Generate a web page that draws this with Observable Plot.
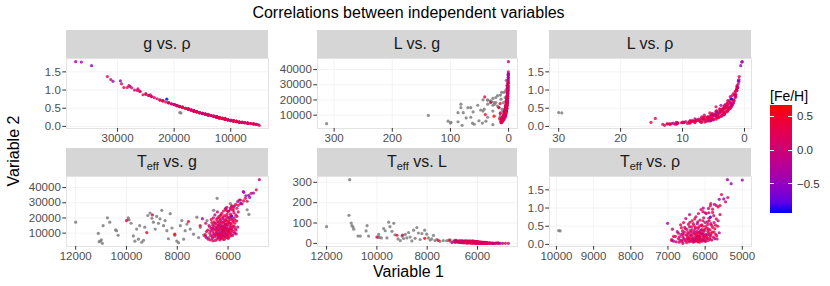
<!DOCTYPE html>
<html><head><meta charset="utf-8">
<script src="https://cdn.jsdelivr.net/npm/d3@7"></script>
<script src="https://cdn.jsdelivr.net/npm/@observablehq/plot@0.6"></script>
<style>
body{margin:0;background:#fff;}
#root{position:relative;width:830px;height:286px;font-family:"Liberation Sans",Arial,sans-serif;overflow:hidden;background:#fff;}
.abs{position:absolute;white-space:nowrap;}
.strip{position:absolute;background:#D6D6D6;color:#1A1A1A;font-size:16px;display:flex;align-items:center;justify-content:center;white-space:pre;}
.strip sub{font-size:11px;vertical-align:-3px;line-height:0;}
.pl{position:absolute;}
</style></head><body><div id="root"></div>
<script>
// ---- data: [Teff, g, L, rho, [Fe/H]] ----
const mainStars = [
[7010,19500,3.8,0.58,-0.35],[6900,9000,9.5,0.13,0.1],[6900,8000,15.1,0.11,0.4],[6850,11000,14.4,0.22,0.35],
[6850,7000,11.5,0.09,-0.4],[6880,16500,4.6,0.42,0.05],[6800,12000,7.0,0.22,0.25],[6780,6000,12.5,0.07,0.15],
[6750,15000,5.2,0.35,-0.1],[6720,10000,8.4,0.16,0.3],[6700,5500,13.2,0.06,0.2],[6600,4950,12.9,0.03,0.25],
[6680,8500,10.0,0.12,0.2],[6650,13000,5.9,0.27,0.0],[6640,17000,4.0,0.46,0.3],[6620,6500,11.8,0.08,-0.2],
[6600,11000,7.4,0.2,0.35],[6580,20000,3.1,0.6,0.1],[6570,9500,8.8,0.15,-0.5],[6560,14500,5.3,0.34,0.2],
[6540,7500,10.8,0.1,0.3],[6520,22000,2.7,0.71,-0.15],[6510,12500,6.4,0.26,0.15],[6500,5200,12.0,0.05,0.25],
[6490,16000,4.4,0.41,0.4],[6470,10500,7.6,0.18,0.1],[6460,8000,9.8,0.11,-0.1],[6450,19000,3.3,0.55,0.2],
[6440,13500,5.5,0.3,-0.3],[6430,6000,12.1,0.07,0.3],[6420,24000,2.3,0.82,0.05],[6410,11500,6.6,0.22,0.25],
[6400,15500,4.6,0.38,0.15],[6390,9000,8.6,0.14,0.35],[6380,7000,10.9,0.09,-0.05],[6370,17500,3.6,0.48,-0.2],
[6360,12000,6.0,0.24,0.45],[6350,21000,2.8,0.65,0.3],[6340,10000,7.8,0.17,-0.6],[6330,14000,4.8,0.32,0.1],
[6320,5500,11.2,0.06,0.0],[6310,8500,8.8,0.12,0.2],[6300,18500,3.3,0.52,0.35],[6295,13000,5.2,0.28,0.25],
[6285,11000,6.5,0.2,-0.25],[6280,6500,10.9,0.08,0.3],[6270,16500,3.8,0.43,0.1],[6260,9500,7.8,0.15,0.2],
[6250,23000,2.2,0.76,0.15],[6240,12500,5.4,0.26,0.4],[6230,7500,9.9,0.1,-0.1],[6220,15000,4.0,0.36,0.3],
[6210,19500,2.7,0.57,-0.4],[6200,10500,6.6,0.18,0.05],[6190,14000,4.4,0.32,0.2],[6180,8000,8.8,0.11,0.45],
[6170,17500,3.2,0.48,0.25],[6160,11500,5.6,0.22,-0.15],[6150,5800,11.0,0.06,0.1],[6140,21500,2.3,0.67,0.3],
[6130,13500,4.4,0.3,0.35],[6120,9000,7.2,0.14,-0.3],[6110,26000,1.5,0.96,0.2],[6100,16000,3.4,0.4,0.15],
[6090,12000,4.6,0.24,0.0],[6080,7000,8.8,0.09,0.3],[6070,18000,2.5,0.5,0.4],[6060,10000,5.8,0.17,0.2],
[6050,14500,3.5,0.34,-0.2],[6040,22500,1.8,0.73,0.1],[6030,8500,6.9,0.12,0.25],[6020,15500,3.2,0.38,0.35],
[6010,11000,5.0,0.2,-0.05],[6000,20000,2.0,0.6,0.3],[5990,6500,9.2,0.08,0.15],[5980,13000,3.8,0.28,0.2],
[5970,24500,1.5,0.85,-0.3],[5960,9500,5.9,0.15,0.4],[5950,17000,2.7,0.45,0.05],[5940,12500,4.1,0.26,-0.45],
[5930,19000,2.1,0.55,0.2],[5920,8000,7.0,0.11,0.3],[5910,26500,1.2,0.99,0.1],[5900,14000,3.4,0.32,0.25],
[5890,21000,1.8,0.65,0.35],[5880,10500,5.0,0.18,-0.1],[5870,16000,2.8,0.4,0.2],[5860,27500,1.1,1.06,0.15],
[5860,21300,2.1,0.75,-0.93],[5850,12000,4.2,0.24,0.3],[5830,18500,2.2,0.53,0.25],[5820,8500,6.4,0.12,0.1],
[5810,14500,3.2,0.34,0.4],[5800,25000,1.4,0.88,0.2],[5780,11000,4.6,0.2,0.3],[5760,20000,1.9,0.6,-0.2],
[5740,16500,2.7,0.43,0.35],[5720,13000,3.7,0.28,0.05],[5700,22000,1.7,0.7,0.3],[5680,9500,5.6,0.15,0.2],
[5660,18000,2.3,0.5,0.4],[5620,14000,3.3,0.32,-0.1],[5600,24000,1.4,0.82,0.25],
[6250,14000,4.9,0.31,0.3],[6230,11000,6.9,0.19,0.15],[6210,8500,9.0,0.12,0.25],[6190,17000,3.6,0.44,-0.1],
[6170,12500,5.7,0.25,0.35],[6150,10000,7.3,0.16,0.2],[6130,15500,4.1,0.37,-0.2],[6110,7500,10.2,0.1,0.3],
[6090,19000,2.9,0.54,0.15],[6070,13000,5.2,0.29,0.4],[6050,9000,8.1,0.13,0.1],[6030,11500,6.0,0.22,0.3],
[6010,16500,3.8,0.42,0.2],[6330,9500,7.9,0.15,0.3],[6350,16000,3.9,0.4,0.2],[6380,12500,5.4,0.26,-0.1],
[6410,20000,2.8,0.61,0.25],[6440,10000,7.5,0.17,0.35],[6470,14000,4.7,0.33,0.1],[6520,9000,8.5,0.14,0.2],
[6550,17500,3.5,0.47,0.3],[6600,13500,5.0,0.3,-0.25],[5950,10500,5.3,0.18,0.3],[5930,15000,3.2,0.36,0.1],
[5900,22500,1.7,0.72,0.4],[5870,9000,6.2,0.14,0.25],[5840,13500,3.7,0.3,0.2],[5800,17500,2.5,0.47,0.35],
[5770,23500,1.5,0.79,0.1],[5740,10000,5.4,0.16,-0.3],[6280,22000,2.5,0.7,0.35],[6180,24500,2.0,0.85,0.3],
[6060,25000,1.8,0.9,0.2],[6300,7000,10.8,0.09,0.2],[6200,6000,12.4,0.07,0.35],[6000,7500,8.0,0.1,0.2],
[5850,28000,1.2,1.12,0.3],[6050,27000,1.3,1.0,-0.2],
[6720,14000,6.5,0.31,0.2],[6690,11500,8.0,0.21,-0.2],[6660,19000,4.6,0.54,0.3],[6630,8000,11.0,0.11,0.1],
[6610,15500,5.6,0.37,0.35],[6590,12500,6.9,0.26,0.2],[6530,16500,4.5,0.43,-0.05],[6480,12000,6.6,0.24,0.3],
[6450,9500,8.7,0.15,0.45],[6420,17500,4.0,0.48,0.2],[6390,14500,5.0,0.34,0.35],[6360,8000,9.9,0.11,0.1],
[6320,19500,3.2,0.57,0.25],[6290,15000,4.4,0.36,-0.3],[6260,17500,3.5,0.47,0.3],[6240,9000,8.4,0.14,0.2],
[6220,12000,5.9,0.24,0.4],[6200,20500,2.6,0.62,0.15],[6160,14500,4.3,0.34,0.3],[6140,11000,6.1,0.2,0.25],
[6120,18500,3.0,0.52,0.35],[6100,13500,4.7,0.3,-0.1],[6080,16000,3.6,0.4,0.3],[6060,21000,2.2,0.65,0.2],
[6020,12500,5.3,0.26,0.15],[5990,18000,2.7,0.5,0.3],[5970,11500,5.2,0.22,0.45],[5940,20500,2.2,0.62,-0.15],
[5910,16500,3.0,0.42,0.3],[5880,12500,4.4,0.26,0.2],[5850,19500,2.2,0.57,0.1],[5760,14500,3.4,0.34,0.25],
[5720,18500,2.3,0.53,0.3],[5690,12000,4.3,0.24,0.35],[5650,21000,1.8,0.65,0.15]
];
const tailStars = [
[5400,37400,0.35,1.78,-0.35],[5000,36400,0.45,1.77,-0.4],[5300,34600,0.6,1.67,-0.45],[5560,31800,0.85,1.37,0.3],
[5390,31200,0.9,1.29,0.2],[5620,30800,0.9,1.24,-0.4],[5500,29500,1.0,1.25,-0.5],[5450,29300,1.0,1.17,0.1],
[5700,28900,1.1,1.07,0.35],[5600,28300,1.15,1.07,0.3],[5750,27800,1.2,1.1,-0.2],[5650,26400,1.3,1.03,0.15],
[5800,26100,1.4,0.97,0.3],[5900,25500,1.5,0.87,0.2],[6000,24200,1.6,0.87,0.1]
];
// stars with no density value: [Teff, g, L, [Fe/H]]
const noRhoStars = [
[4770,45200,0.3,-0.15],[4890,38500,0.4,0.4],[5090,36200,0.5,0.0],[5190,34900,0.55,-0.5],
[5380,36900,0.5,-0.4],[5320,32900,0.7,0.2],[5510,31800,0.8,0.25],[5250,31000,0.75,0.35],[5150,33500,0.6,-0.3],
[10000,18300,31,0.35],[9200,10400,40,0.5],[8100,9300,25,0.67],[7560,17600,14.5,0.55],[8980,22000,41,0.3],[7100,15000,17,0.45]
];
// stars with no [Fe/H]: [Teff, g, L, rho]
const greyRhoStars = [[9940,19000,30,0.38],[9900,18800,29.5,0.37]];
// stars with no [Fe/H] and no rho: [Teff, g, L]
const greyStars = [
[12000,17200,82],[11080,4400,313],[11110,9800,138],[11020,4800,100],[10990,5600,87],[10920,14900,70],
[10950,3300,80],[10750,20100,36],[10660,17200,36],[10430,12100,61],[10390,11600,87],[10330,8600,36],
[9930,20100,44],[9820,16500,27],[9730,8200,73],[9670,4700,62],[9600,12700,27],[9530,6000,104],
[9480,14900,82],[9400,4000,59],[9330,5300,99],[9280,13900,42],[9160,21600,22],[9070,23200,14],
[9000,19800,36],[8940,17200,24],[8870,12700,44],[8810,21000,27],[8740,16500,53],[8680,19400,31],
[8610,25000,12],[8540,14900,65],[8480,18300,25],[8410,11600,78],[8350,6300,51],[8280,22800,19],
[8210,13400,48],[8100,8600,65],[8020,4800,45],[7950,3700,27],[7880,14900,16],[7820,18300,22],
[7750,6000,39],[7690,11600,14],[7620,16000,19],[7490,12700,10],[7360,9300,14],[7230,20500,13],
[7160,7100,15],[7090,13800,11],[6960,8700,10],[6830,18300,9],[6760,7100,9],[6570,25000,8],
[6430,32900,4],[6300,21600,6],[6100,26100,5],[5910,29500,3],[5780,27200,3.5],[5510,29500,2.5],
[5250,25400,3],[5180,22300,3.5]
];
const stripTitles = ["g vs. ρ","L vs. g","L vs. ρ","T<sub>eff</sub> vs. g","T<sub>eff</sub> vs. L","T<sub>eff</sub> vs. ρ"];
const xVars = ["g","L","L","teff","teff","teff"];
const yVars = ["rho","g","rho","g","L","rho"];
const xTickSets = [[30000,20000,10000],[300,200,100,0],[30,20,10,0],[12000,10000,8000,6000],[12000,10000,8000,6000],[10000,9000,8000,7000,6000,5000]];
const yTickSets = [[0,0.5,1,1.5],[10000,20000,30000,40000],[0,0.5,1,1.5],[10000,20000,30000,40000],[0,100,200,300],[0,0.5,1,1.5]];
const legendTicks = [0.5,0,-0.5];
const titleText = "Correlations between independent variables";
const xTitle = "Variable 1", yTitle = "Variable 2", legendTitle = "[Fe/H]";

// ---- build table ----
const stars = [
  ...mainStars.map(([teff,g,L,rho,feh])=>({teff,g,L,rho,feh})),
  ...tailStars.map(([teff,g,L,rho,feh])=>({teff,g,L,rho,feh})),
  ...noRhoStars.map(([teff,g,L,feh])=>({teff,g,L,rho:null,feh})),
  ...greyRhoStars.map(([teff,g,L,rho])=>({teff,g,L,rho,feh:null})),
  ...greyStars.map(([teff,g,L])=>({teff,g,L,rho:null,feh:null}))
];
const fehDomain = d3.extent(stars.filter(d=>d.feh!=null), d=>d.feh);
const colorOpts = {type:"linear", domain:fehDomain, range:["blue","red"], interpolate:"lab"};

// ---- layout ----
const cols = [[66,268],[317,517],[549,751]];
const rows = [{strip:30, top:58, bottom:128},{strip:148, top:176, bottom:246}];
const ML=52, MR=14, MT=4, MB=24;
const root = document.getElementById("root");
const FONT = '"Liberation Sans",Arial,sans-serif';

function expand(ext){const p=(ext[1]-ext[0])*0.05;return [ext[0]-p, ext[1]+p];}

for (let i=0;i<6;i++){
  const c = cols[i%3], r = rows[Math.floor(i/3)];
  const xv = xVars[i], yv = yVars[i];
  const W = c[1]-c[0], H = r.bottom-r.top;
  const data = stars.filter(d=>d[xv]!=null && d[yv]!=null);
  const grey = data.filter(d=>d.feh==null), col = data.filter(d=>d.feh!=null);
  const fmtY = yv==="rho" ? d3.format(".1f") : d3.format("d");
  const plot = Plot.plot({
    width: W+ML+MR, height: H+MT+MB,
    marginLeft: ML, marginRight: MR, marginTop: MT, marginBottom: MB,
    x: {domain: expand(d3.extent(data,d=>d[xv])), reverse:true, label:null},
    y: {domain: expand(d3.extent(data,d=>d[yv])), label:null},
    color: colorOpts,
    style: {fontFamily: FONT, fontSize:"11.5px", overflow:"visible", background:"transparent"},
    marks: [
      Plot.frame({fill:"white", stroke:"none"}),
      Plot.gridX(xTickSets[i], {stroke:"#F0F0F0", strokeOpacity:1, strokeWidth:0.8}),
      Plot.gridY(yTickSets[i], {stroke:"#F0F0F0", strokeOpacity:1, strokeWidth:0.8}),
      Plot.dot(grey, {x:xv, y:yv, r:1.6, fill:"#7F7F7F", fillOpacity:0.85}),
      Plot.dot(col, {x:xv, y:yv, r:1.6, fill:"feh", fillOpacity:0.8}),
      Plot.frame({stroke:"#E3E3E3"}),
      Plot.axisX(xTickSets[i], {tickSize:3.7, tickPadding:2, stroke:"#333333", fill:"#4D4D4D", fontSize:11.5, label:null, tickFormat:d3.format("d")}),
      Plot.axisY(yTickSets[i], {tickSize:3.7, tickPadding:2, stroke:"#333333", fill:"#4D4D4D", fontSize:11.5, label:null, tickFormat:fmtY})
    ]
  });
  plot.classList.add("pl");
  plot.style.left = (c[0]-ML)+"px";
  plot.style.top = (r.top-MT)+"px";
  root.appendChild(plot);
  const s = document.createElement("div");
  s.className = "strip";
  s.style.left = c[0]+"px"; s.style.top = r.strip+"px";
  s.style.width = W+"px"; s.style.height = (r.top-r.strip)+"px";
  s.innerHTML = "<span>"+stripTitles[i]+"</span>";
  root.appendChild(s);
}

function addText(txt, css){const d=document.createElement("div");d.className="abs";d.textContent=txt;Object.assign(d.style,css);root.appendChild(d);return d;}
addText(titleText,{left:"66px",width:"685px",top:"3px",textAlign:"center",fontSize:"16px",lineHeight:"20px",color:"#000"});
addText(xTitle,{left:"66px",width:"685px",top:"262px",textAlign:"center",fontSize:"16px",lineHeight:"20px",color:"#000"});
addText(yTitle,{left:"-36px",width:"100px",top:"141px",textAlign:"center",fontSize:"16px",lineHeight:"20px",color:"#000",transform:"rotate(-90deg)"});

// ---- legend ----
addText(legendTitle,{left:"770px",top:"87px",fontSize:"14px",lineHeight:"18px",color:"#000"});
const barTop=105, barBottom=213, barLeft=770, barW=22;
const interp = d3.interpolateLab("blue","red");
const stops = d3.range(0,1.0001,0.1).map(t=>interp(t)+" "+(t*100)+"%").join(",");
const bar = document.createElement("div");
Object.assign(bar.style,{position:"absolute",left:barLeft+"px",top:barTop+"px",width:barW+"px",height:(barBottom-barTop)+"px",background:"linear-gradient(to top,"+stops+")"});
root.appendChild(bar);
const ly = d3.scaleLinear().domain(fehDomain).range([barBottom,barTop]);
for (const v of legendTicks){
  const y = ly(v);
  for (const x of [barLeft, barLeft+barW-4.4]){
    const t=document.createElement("div");
    Object.assign(t.style,{position:"absolute",left:x+"px",top:(y-0.5)+"px",width:"4.4px",height:"1px",background:"rgba(255,255,255,0.9)"});
    root.appendChild(t);
  }
  addText(d3.format(".1f")(v),{left:"797px",top:(y-8)+"px",fontSize:"11.5px",lineHeight:"16px",color:"#333"});
}
</script></body></html>
